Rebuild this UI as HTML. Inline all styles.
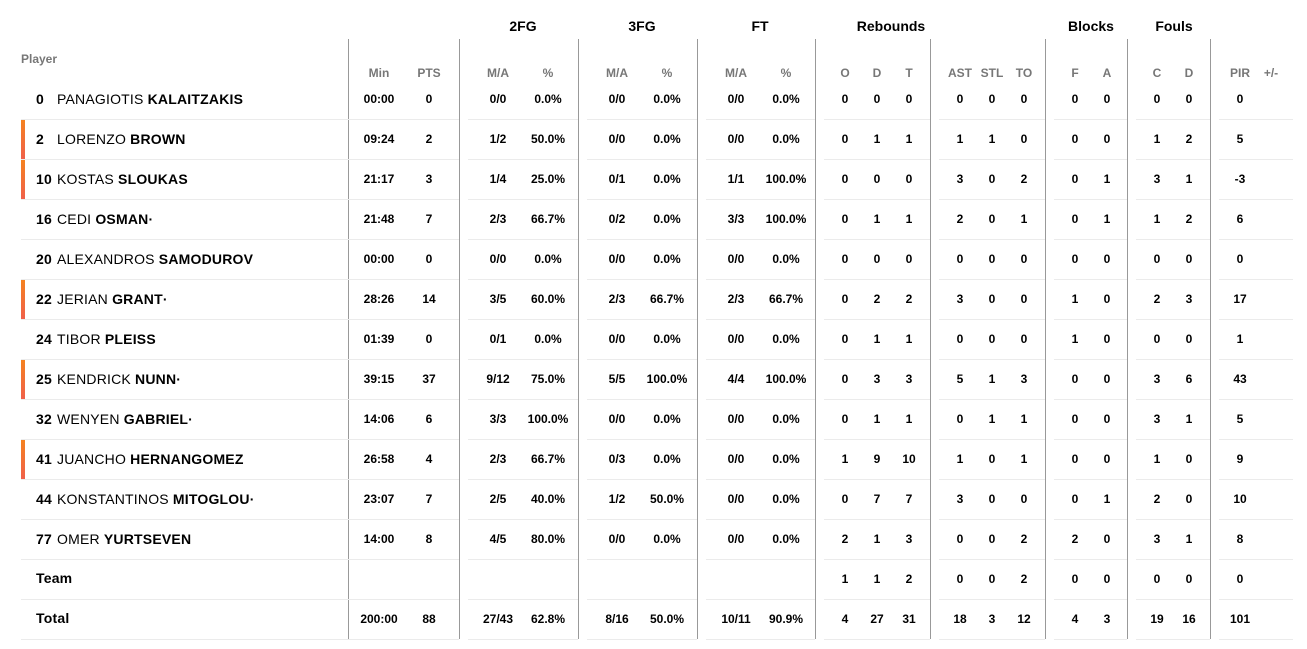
<!DOCTYPE html>
<html><head><meta charset="utf-8"><style>
body{margin:0;width:1307px;height:649px;background:#fff;position:relative;overflow:hidden;font-family:"Liberation Sans",sans-serif;color:#000}
.a{position:absolute;white-space:nowrap}
.c{transform:translateX(-50%);text-align:center}
.gh{font-size:14px;font-weight:bold;top:18px}
.sh{font-size:12px;font-weight:bold;color:#777;top:66px}
.d{font-size:12px;font-weight:bold}
.n{font-size:14px;letter-spacing:0.2px}
.v{position:absolute;width:1px;background:#999;top:39px;height:600px}
.h{position:absolute;height:1px;background:#ebebeb}
.bar{position:absolute;left:21px;width:4px;height:39px;background:linear-gradient(#f58220,#f0604a)}
</style></head><body>
<div id="r"></div>
<script>
var b=document.body,H='';
[['2FG',523],['3FG',642],['FT',760],['Rebounds',891],['Blocks',1091],['Fouls',1174]].forEach(function(g){H+='<div class="a c gh" style="left:'+g[1]+'px">'+g[0]+'</div>';});
H+='<div class="a sh" style="left:21px;top:52px">Player</div>';
var cx=[379,429,498,548,617,667,736,786,845,877,909,960,992,1024,1075,1107,1157,1189,1240,1271];
var sh=['Min','PTS','M/A','%','M/A','%','M/A','%','O','D','T','AST','STL','TO','F','A','C','D','PIR','+/-'];
sh.forEach(function(s,i){H+='<div class="a c sh" style="left:'+cx[i]+'px">'+s+'</div>';});
var vl=[348,459,578,697,815,930,1045,1127,1210];
vl.forEach(function(x){H+='<div class="v" style="left:'+x+'px"></div>';});
var rows=[
['0','PANAGIOTIS ','KALAITZAKIS',0,'00:00 0 0/0 0.0% 0/0 0.0% 0/0 0.0% 0 0 0 0 0 0 0 0 0 0 0'],
['2','LORENZO ','BROWN',1,'09:24 2 1/2 50.0% 0/0 0.0% 0/0 0.0% 0 1 1 1 1 0 0 0 1 2 5'],
['10','KOSTAS ','SLOUKAS',1,'21:17 3 1/4 25.0% 0/1 0.0% 1/1 100.0% 0 0 0 3 0 2 0 1 3 1 -3'],
['16','CEDI ','OSMAN·',0,'21:48 7 2/3 66.7% 0/2 0.0% 3/3 100.0% 0 1 1 2 0 1 0 1 1 2 6'],
['20','ALEXANDROS ','SAMODUROV',0,'00:00 0 0/0 0.0% 0/0 0.0% 0/0 0.0% 0 0 0 0 0 0 0 0 0 0 0'],
['22','JERIAN ','GRANT·',1,'28:26 14 3/5 60.0% 2/3 66.7% 2/3 66.7% 0 2 2 3 0 0 1 0 2 3 17'],
['24','TIBOR ','PLEISS',0,'01:39 0 0/1 0.0% 0/0 0.0% 0/0 0.0% 0 1 1 0 0 0 1 0 0 0 1'],
['25','KENDRICK ','NUNN·',1,'39:15 37 9/12 75.0% 5/5 100.0% 4/4 100.0% 0 3 3 5 1 3 0 0 3 6 43'],
['32','WENYEN ','GABRIEL·',0,'14:06 6 3/3 100.0% 0/0 0.0% 0/0 0.0% 0 1 1 0 1 1 0 0 3 1 5'],
['41','JUANCHO ','HERNANGOMEZ',1,'26:58 4 2/3 66.7% 0/3 0.0% 0/0 0.0% 1 9 10 1 0 1 0 0 1 0 9'],
['44','KONSTANTINOS ','MITOGLOU·',0,'23:07 7 2/5 40.0% 1/2 50.0% 0/0 0.0% 0 7 7 3 0 0 0 1 2 0 10'],
['77','OMER ','YURTSEVEN',0,'14:00 8 4/5 80.0% 0/0 0.0% 0/0 0.0% 2 1 3 0 0 2 2 0 3 1 8'],
['Team','','',0,'- - - - - - - - 1 1 2 0 0 2 0 0 0 0 0'],
['Total','','',0,'200:00 88 27/43 62.8% 8/16 50.0% 10/11 90.9% 4 27 31 18 3 12 4 3 19 16 101']];
rows.forEach(function(r,k){
 var top=80+k*40, yc=top+19;
 if(r[3])H+='<div class="bar" style="top:'+top+'px"></div>';
 if(r[1]){H+='<div class="a n" style="left:36px;top:'+(yc-8)+'px"><b>'+r[0]+'</b></div>';
  H+='<div class="a n" style="left:57px;top:'+(yc-8)+'px">'+r[1]+'<b>'+r[2]+'</b></div>';}
 else H+='<div class="a n" style="left:36px;top:'+(yc-9)+'px"><b>'+r[0]+'</b></div>';
 r[4].split(' ').forEach(function(s,i){if(s!='-')H+='<div class="a c d" style="left:'+cx[i]+'px;top:'+(yc-7)+'px">'+s+'</div>';});
 var y=top+39;
 var segs=[[21,348],[348,459],[468,578],[587,697],[706,815],[824,930],[939,1045],[1054,1127],[1136,1210],[1219,1293]];
 segs.forEach(function(s){H+='<div class="h" style="left:'+s[0]+'px;width:'+(s[1]-s[0])+'px;top:'+y+'px"></div>';});
});
document.getElementById('r').innerHTML=H;
</script>
</body></html>
